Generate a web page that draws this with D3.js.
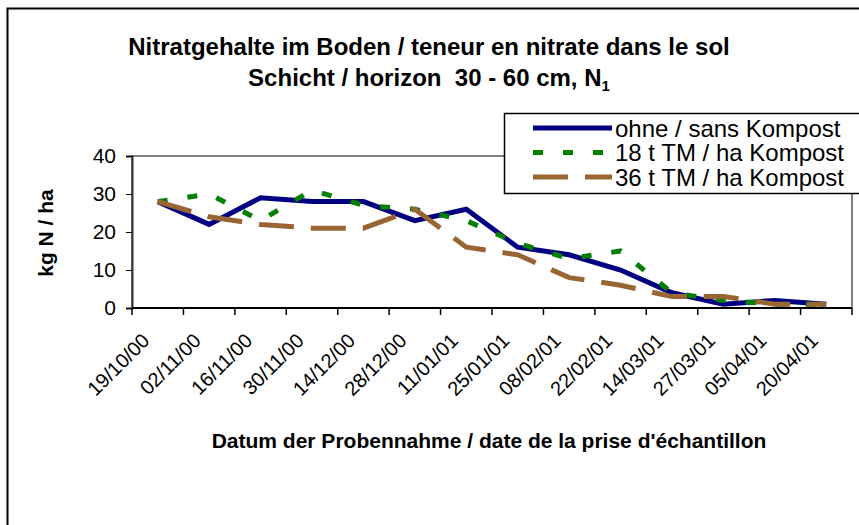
<!DOCTYPE html>
<html><head><meta charset="utf-8">
<script src="https://cdn.jsdelivr.net/npm/d3@7"></script>
<style>body{margin:0;background:#fff}svg{display:block}text{font-family:"Liberation Sans",Arial,sans-serif}</style>
</head><body><svg id="c" width="859" height="525"></svg>
<script>
const dates = ["19/10/00","02/11/00","16/11/00","30/11/00","14/12/00","28/12/00","11/01/01","25/01/01","08/02/01","22/02/01","14/03/01","27/03/01","05/04/01","20/04/01"];
const ohne = [28,22,29,28,28,23,26,16,14,10,4,1,2,1];
const t18 = [28,30,23,31,27,26,23,17,13,15,4,2,1,1];
const t36 = [28,24,22,21,21,26,16,14,8,6,3,3,1,1];
const seriesNames = ["ohne / sans Kompost","18 t TM / ha Kompost","36 t TM / ha Kompost"];
const yTicks = [0,10,20,30,40];

const svg = d3.select("#c");
const L = 132, R = 852, T = 156, B = 308;
const x = d3.scaleBand().domain(dates).range([L, R]);
const y = d3.scaleLinear().domain([0, 40]).range([B, T]);

// outer chart border
svg.append("rect").attr("x",7.5).attr("y",8.5).attr("width",900).attr("height",600)
  .attr("fill","#fff").attr("stroke","#000").attr("stroke-width",2);

// plot area border (gray)
svg.append("rect").attr("x",L).attr("y",T).attr("width",R-L).attr("height",B-T)
  .attr("fill","none").attr("stroke","#808080").attr("stroke-width",2);

// y axis
const yAxis = d3.axisLeft(y).tickValues(yTicks).tickSize(6).tickPadding(10);
const gy = svg.append("g").attr("transform",`translate(${L},0)`).call(yAxis);
gy.select(".domain").attr("stroke","#333").attr("stroke-width",2);
gy.selectAll(".tick line").attr("stroke","#000");
gy.selectAll(".tick text").attr("font-size",21).attr("fill","#000").attr("font-family","Liberation Sans, Arial");

// x axis: ticks at band boundaries
const gx = svg.append("g").attr("transform",`translate(0,${B})`);
gx.append("line").attr("x1",L).attr("x2",R).attr("y1",0).attr("y2",0).attr("stroke","#000").attr("stroke-width",2);
const bounds = dates.map(d => x(d)).concat([R]);
gx.selectAll("line.tk").data(bounds).join("line").attr("class","tk")
  .attr("x1",d=>d).attr("x2",d=>d).attr("y1",0).attr("y2",7).attr("stroke","#000").attr("stroke-width",1.5);
gx.selectAll("text").data(dates).join("text")
  .attr("transform", d => `translate(${x(d)+x.bandwidth()/2-7},${34}) rotate(-45)`)
  .attr("text-anchor","end").attr("font-size",20).attr("fill","#000").text(d=>d);

// lines
const line = d3.line().x((d,i)=>x(dates[i])+x.bandwidth()/2).y(d=>y(d));
const styles = [
  {data: ohne, color:"#000080", dash:null},
  {data: t18, color:"#008000", dash:"10,20"},
  {data: t36, color:"#996633", dash:"35,17"}
];
styles.forEach(s => {
  svg.append("path").datum(s.data).attr("d",line).attr("fill","none")
    .attr("stroke",s.color).attr("stroke-width",5).attr("stroke-linejoin","miter")
    .attr("stroke-dasharray",s.dash);
});

// titles
const title = svg.append("text").attr("x",429).attr("y",55).attr("text-anchor","middle")
  .attr("font-size",24).attr("font-weight","bold").text("Nitratgehalte im Boden / teneur en nitrate dans le sol");
const t2 = svg.append("text").attr("x",429).attr("y",86).attr("text-anchor","middle")
  .attr("font-size",24).attr("font-weight","bold").attr("xml:space","preserve");
t2.append("tspan").text("Schicht / horizon\u00a0 30 - 60 cm, N");
t2.append("tspan").attr("font-size",15).attr("dy",5).text("1");

svg.append("text").attr("transform","translate(53,233) rotate(-90)").attr("text-anchor","middle")
  .attr("font-size",21).attr("font-weight","bold").text("kg N / ha");
svg.append("text").attr("x",489).attr("y",448).attr("text-anchor","middle")
  .attr("font-size",21).attr("font-weight","bold").text("Datum der Probennahme / date de la prise d'échantillon");

// legend
const lg = svg.append("g");
lg.append("rect").attr("x",504.5).attr("y",113.5).attr("width",400).attr("height",80)
  .attr("fill","#fff").attr("stroke","#000").attr("stroke-width",1.5);
const rows = [128,152.5,177];
styles.forEach((s,i) => {
  lg.append("line").attr("x1",533).attr("x2",612).attr("y1",rows[i]).attr("y2",rows[i])
    .attr("stroke",s.color).attr("stroke-width",5).attr("stroke-dasharray",s.dash);
  lg.append("text").attr("x",615).attr("y",rows[i]+8.5).attr("font-size",24).text(seriesNames[i]);
});
</script></body></html>
